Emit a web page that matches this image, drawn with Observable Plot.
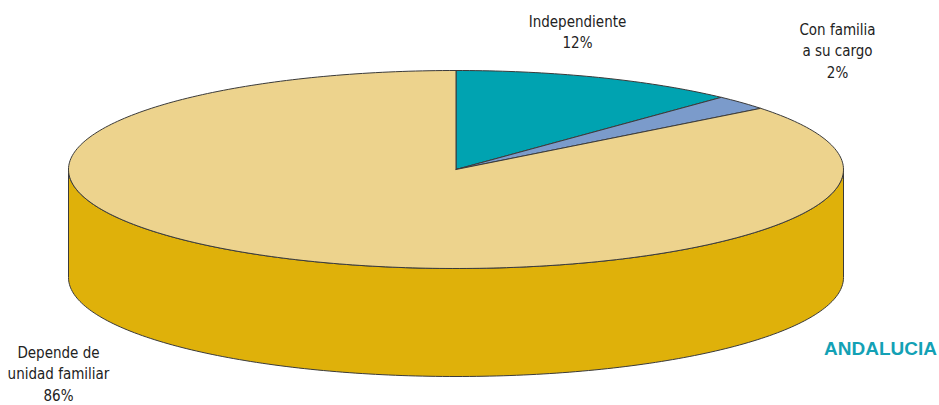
<!DOCTYPE html>
<html>
<head>
<meta charset="utf-8">
<script src="https://cdn.jsdelivr.net/npm/d3@7"></script>
<script src="https://cdn.jsdelivr.net/npm/@observablehq/plot@0.6"></script>
<style>
  html, body { margin: 0; padding: 0; background: #fff; }
  #chart { width: 939px; height: 405px; }
</style>
</head>
<body>
<div id="chart"></div>
<script>
// ---- data ----
const categories = ["Independiente", "Con familia a su cargo", "Depende de unidad familiar"];
const values = [12, 2.4, 85.6];
const percentLabels = ["12%", "2%", "86%"];
const labelLines = [["Independiente", "12%"], ["Con familia", "a su cargo", "2%"], ["Depende de", "unidad familiar", "86%"]];
const title = "ANDALUCIA";

// ---- styles / layout ----
const topColors = ["#00A3B1", "#7B9BCB", "#EDD38D"];
const sideColor = "#DFB10A";
const edgeColor = "#3a3a3a";
const W = 939, H = 405;
const cx = 455.5, cy = 169, rx = 387.5, ry = 99; // pixel geometry of the top ellipse
const depth = 108 / ry; // thickness in y units
// label anchors in pixels (center x, baseline of first line), line spacing
const labelPos = [[577, 26], [837, 34], [58, 357]];
const lineGap = 21.5;
const titlePos = [880, 354];

const toX = px => (px - cx) / rx;
const toY = py => (cy - py) / ry;

// ---- geometry from values ----
const total = d3.sum(values);
const N = 360;
const slices = [];
let acc = 0;
values.forEach((v, i) => {
  const a0 = acc / total * 2 * Math.PI;
  acc += v;
  const a1 = acc / total * 2 * Math.PI;
  const pts = [{x: 0, y: 0}];
  const n = Math.max(4, Math.ceil((a1 - a0) / (2 * Math.PI) * N));
  for (let k = 0; k <= n; k++) {
    const a = a0 + (a1 - a0) * k / n;
    pts.push({x: Math.sin(a), y: Math.cos(a)});
  }
  pts.push({x: 0, y: 0});
  slices.push({name: categories[i], pts, color: topColors[i]});
});

// visible side wall (front half)
const side = [];
for (let k = 0; k <= 180; k++) {
  const a = Math.PI / 2 + Math.PI * k / 180;
  side.push({x: Math.sin(a), y: Math.cos(a)});
}
for (let k = 180; k >= 0; k--) {
  const a = Math.PI / 2 + Math.PI * k / 180;
  side.push({x: Math.sin(a), y: Math.cos(a) - depth});
}
side.push(side[0]);

// text rows
const texts = [];
labelLines.forEach((lines, i) => {
  lines.forEach((t, j) => {
    texts.push({x: toX(labelPos[i][0]), y: toY(labelPos[i][1] + j * lineGap), t});
  });
});

const marks = [
  Plot.line(side, {x: "x", y: "y", fill: sideColor, stroke: edgeColor, strokeWidth: 1, curve: "linear"}),
  ...slices.map(s => Plot.line(s.pts, {x: "x", y: "y", fill: s.color, stroke: edgeColor, strokeWidth: 1, curve: "linear"})),
  Plot.text(texts, {x: "x", y: "y", text: "t", textAnchor: "middle", lineAnchor: "bottom", fontSize: 15, fill: "#222"}),
  Plot.text([title], {x: () => toX(titlePos[0]), y: () => toY(titlePos[1]), text: d => d, textAnchor: "middle", lineAnchor: "bottom", fontSize: 19, fontWeight: "bold", fill: "#13A1B5", fontFamily: "'Liberation Sans', Arial, sans-serif"})
];

const chart = Plot.plot({
  width: W,
  height: H,
  margin: 0,
  x: {domain: [toX(0), toX(W)], range: [0, W], axis: null},
  y: {domain: [toY(H), toY(0)], range: [H, 0], axis: null},
  style: {fontFamily: "'Liberation Sans Narrow', 'Arial Narrow', 'DejaVu Sans Condensed', sans-serif", background: "#fff", overflow: "visible"},
  marks
});
document.getElementById("chart").appendChild(chart);
</script>
</body>
</html>
